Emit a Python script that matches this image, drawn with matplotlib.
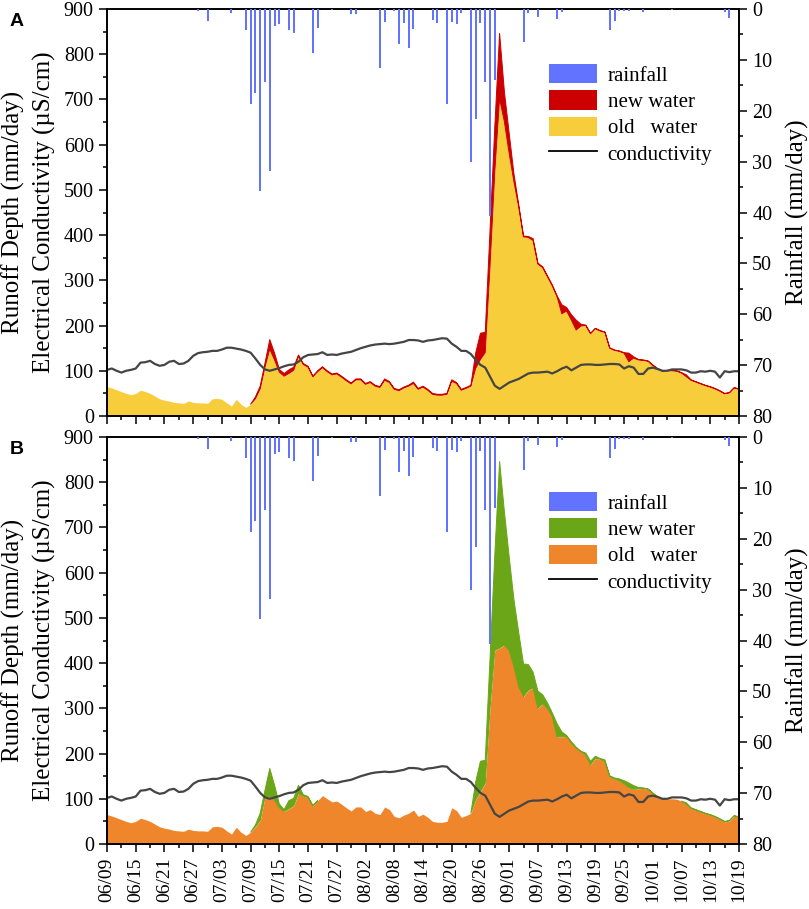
import numpy as np
import pandas as pd
import matplotlib
matplotlib.use("Agg")
import matplotlib.pyplot as plt
from matplotlib.patches import Patch
from matplotlib.lines import Line2D
from matplotlib.ticker import MultipleLocator

plt.rcParams['font.family'] = ['Liberation Serif', 'DejaVu Serif']

dates = pd.date_range('2021-06-09', '2021-10-19', freq='D')
days = np.arange(len(dates))

# daily rainfall (mm/day)
rain = [
    0, 0, 0, 0, 0, 0, 0, 0, 0, 0,
    0, 0, 0, 0, 0, 0, 0, 0, 0, 0.4,
    0, 2.3, 0, 0, 0, 0, 0.7, 0, 0, 4.1,
    18.6, 16.5, 35.7, 14.3, 31.9, 3.3, 3.0, 0, 4.1, 4.7,
    0, 0, 0, 8.7, 3.7, 0, 0, 0.2, 0, 0,
    0, 1.0, 1.0, 0, 0, 0, 0, 11.6, 2.6, 0,
    0.3, 6.8, 2.8, 7.6, 3.9, 0, 0, 0, 2.2, 2.8,
    0, 18.7, 2.5, 3.0, 0.7, 0, 30.1, 21.6, 2.8, 14.4,
    40.6, 13.9, 0, 0, 0, 0, 0, 6.5, 0.7, 0,
    1.6, 0, 0, 0, 2.0, 0.5, 0, 0, 0, 0,
    0, 0, 0, 0, 0, 4.1, 2.3, 0.3, 0.3, 0.3,
    0, 0, 0.5, 0, 0, 0, 0, 0, 0.1, 0,
    0, 0, 0, 0, 0, 0, 0, 0, 0, 0.5,
    1.8, 0, 0,
]

# electrical conductivity (uS/cm)
cond = [
    102, 105, 100, 96, 100, 102, 105, 118, 119, 122,
    115, 111, 113, 120, 122, 115, 116, 122, 133, 139,
    141, 142, 144, 144, 147, 151, 151, 149, 147, 144,
    140, 127, 113, 103, 100, 103, 106, 110, 113, 114,
    120, 130, 135, 136, 137, 141, 135, 136, 135, 138,
    140, 142, 146, 150, 153, 156, 158, 159, 160, 159,
    160, 162, 164, 168, 168, 167, 164, 167, 168, 170,
    172, 171, 160, 153, 144, 144, 137, 124, 113, 107,
    87, 67, 60, 67, 74, 78, 82, 88, 94, 96,
    96, 97, 98, 94, 99, 105, 109, 101, 107, 113,
    114, 114, 113, 113, 114, 115, 115, 114, 105, 110,
    107, 93, 93, 105, 107, 104, 100, 100, 103, 103,
    103, 101, 96, 96, 99, 98, 100, 98, 85, 99,
    97, 99, 99,
]

# panel A: old / new water (mm/day)
old_a = [
    65, 62, 58, 54, 50, 47, 50, 57, 54, 50,
    44, 38, 35, 33, 30, 29, 28, 33, 30, 29,
    29, 28, 38, 39, 37, 29, 22, 37, 26, 19,
    26, 38, 60, 108, 148, 124, 97, 88, 94, 101,
    132, 114, 108, 87, 98, 107, 98, 91, 93, 86,
    78, 71, 80, 80, 70, 74, 66, 63, 79, 74,
    59, 56, 62, 66, 72, 59, 64, 57, 48, 46,
    46, 48, 77, 72, 57, 61, 66, 105, 125, 140,
    330, 540, 702, 651, 581, 518, 462, 396, 395, 388,
    336, 328, 308, 288, 264, 226, 232, 212, 190, 199,
    200, 182, 193, 188, 185, 150, 145, 143, 139, 120,
    128, 124, 123, 121, 112, 104, 99, 100, 100, 99,
    95, 87, 79, 75, 71, 67, 64, 60, 55, 49,
    51, 62, 59,
]
new_a = [
    0, 0, 0, 0, 0, 0, 0, 0, 0, 0,
    0, 0, 0, 0, 0, 0, 0, 0, 0, 0,
    0, 0, 0, 0, 0, 0, 0, 0, 0, 0,
    0, 4, 6, 9, 21, 15, 6, 6, 8, 7,
    3, 2, 2, 1, 2, 2, 2, 2, 2, 2,
    2, 2, 2, 2, 2, 2, 2, 2, 3, 2,
    2, 2, 2, 2, 3, 2, 2, 2, 2, 2,
    2, 2, 3, 2, 2, 2, 2, 34, 58, 45,
    80, 100, 144, 66, 44, 17, 5, 2, 2, 4,
    2, 2, 2, 2, 2, 20, 8, 12, 22, 4,
    1, 1, 1, 1, 1, 1, 1, 1, 1, 19,
    3, 1, 1, 1, 1, 1, 1, 1, 1, 1,
    1, 4, 1, 1, 1, 1, 1, 1, 1, 1,
    1, 1, 1,
]

# panel B: old / new water (mm/day)
old_b = [
    65, 62, 58, 54, 50, 47, 50, 57, 54, 50,
    44, 38, 35, 33, 30, 29, 28, 33, 30, 29,
    29, 28, 38, 39, 37, 29, 22, 37, 26, 19,
    26, 38, 52, 103, 105, 97, 80, 72, 78, 84,
    112, 106, 103, 84, 96, 107, 100, 93, 95, 88,
    80, 73, 82, 82, 72, 76, 68, 65, 82, 76,
    61, 58, 64, 68, 75, 61, 66, 59, 50, 48,
    48, 50, 80, 74, 59, 63, 68, 97, 116, 134,
    300, 428, 433, 440, 428, 392, 348, 326, 340, 345,
    300, 310, 300, 282, 237, 237, 238, 223, 212, 204,
    197, 175, 189, 188, 182, 149, 144, 140, 133, 125,
    121, 122, 123, 121, 112, 104, 99, 100, 100, 99,
    95, 88, 79, 75, 71, 67, 64, 60, 55, 49,
    51, 62, 59,
]
new_b = [
    0, 0, 0, 0, 0, 0, 0, 0, 0, 0,
    0, 0, 0, 0, 0, 0, 0, 0, 0, 0,
    0, 0, 0, 0, 0, 0, 0, 0, 0, 0,
    0, 4, 16, 16, 62, 33, 8, 4, 18, 17,
    18, 3, 2, 1, 0, 0, 0, 0, 0, 0,
    0, 0, 0, 0, 0, 0, 0, 0, 0, 0,
    0, 0, 0, 0, 0, 0, 0, 0, 0, 0,
    0, 0, 0, 0, 0, 0, 0, 40, 67, 51,
    110, 212, 413, 295, 207, 148, 119, 72, 57, 35,
    38, 20, 12, 8, 29, 11, 2, 3, 2, 1,
    4, 8, 5, 1, 4, 2, 2, 4, 7, 10,
    8, 3, 1, 1, 1, 1, 1, 0, 0, 0,
    0, 3, 1, 1, 1, 1, 1, 1, 1, 1,
    1, 1, 1,
]

rain_color = '#6173FF'
cond_color = '#454545'
panels = [
    ('A', old_a, new_a, '#F8CD3B', '#CC0000', 9),
    ('B', old_b, new_b, '#F0862C', '#6AA617', 437),
]

W, H = 809, 909
fig = plt.figure(figsize=(W / 100, H / 100), dpi=100)

tick_labels = [d.strftime('%m/%d') for d in dates[::6]]

for i, (letter, old, new, old_c, new_c, top_px) in enumerate(panels):
    old = np.array(old, dtype=float)
    new = np.array(new, dtype=float)
    total = old + new
    # only outline the new-water band where it exists (plus its neighbours)
    has_new = new > 0
    mask = has_new | np.roll(has_new, 1) | np.roll(has_new, -1)

    ax = fig.add_axes([107 / W, 1 - (top_px + 407) / H, 632 / W, 407 / H])
    ax.fill_between(days, 0, old, color=old_c, lw=0, zorder=2)
    ax.fill_between(days, old, total, where=mask, facecolor=new_c,
                    edgecolor=new_c, lw=0.7, zorder=3)
    ax.plot(days, cond, color=cond_color, lw=1.6, zorder=4)

    ax.set_xlim(days[0], days[-1])
    ax.set_ylim(0, 900)
    ax.yaxis.set_major_locator(MultipleLocator(100))
    ax.yaxis.set_minor_locator(MultipleLocator(50))
    ax.set_xticks(days[::6])
    ax.xaxis.set_minor_locator(MultipleLocator(3))
    if i == 1:
        ax.set_xticklabels(tick_labels, rotation=90)
    else:
        ax.set_xticklabels([])
    ax.tick_params(which='major', direction='out', length=6, width=1.1,
                   labelsize=14.5)
    ax.tick_params(which='minor', direction='out', length=3, width=1.1)
    ax.tick_params(axis='x', which='major', labelsize=14)

    ax2 = ax.twinx()
    ax2.bar(days, rain, width=0.42, color=rain_color, zorder=5)
    ax2.set_ylim(80, 0)
    ax2.yaxis.set_major_locator(MultipleLocator(10))
    ax2.yaxis.set_minor_locator(MultipleLocator(5))
    ax2.tick_params(which='major', direction='out', length=6, width=1.1,
                    labelsize=14.5)
    ax2.tick_params(which='minor', direction='out', length=3, width=1.1)

    for a in (ax, ax2):
        for s in a.spines.values():
            s.set_linewidth(1.2)

    handles = [
        Patch(facecolor=rain_color, edgecolor='none', label='rainfall'),
        Patch(facecolor=new_c, edgecolor='none', label='new water'),
        Patch(facecolor=old_c, edgecolor='none', label='old   water'),
        Line2D([], [], color='black', lw=1.3, label='conductivity'),
    ]
    ax2.legend(handles=handles, loc='upper left', bbox_to_anchor=(0.70, 0.865),
               frameon=False, fontsize=15, handlelength=2.3, handleheight=1.05,
               handletextpad=0.5, labelspacing=0.22, borderpad=0,
               borderaxespad=0)

    cy = 1 - (top_px + 203) / H
    fig.text(13 / W, cy, 'Runoff Depth (mm/day)', rotation=90,
             ha='center', va='center', fontsize=18)
    fig.text(44 / W, cy, 'Electrical Conductivity (µS/cm)', rotation=90,
             ha='center', va='center', fontsize=18)
    fig.text(797 / W, cy, 'Rainfall (mm/day)', rotation=90,
             ha='center', va='center', fontsize=18)
    fig.text(17 / W, 1 - (top_px + 13) / H, letter, ha='center', va='center',
             fontsize=14, fontweight='bold', family='Liberation Sans')

fig.savefig('out.png', dpi=100)
